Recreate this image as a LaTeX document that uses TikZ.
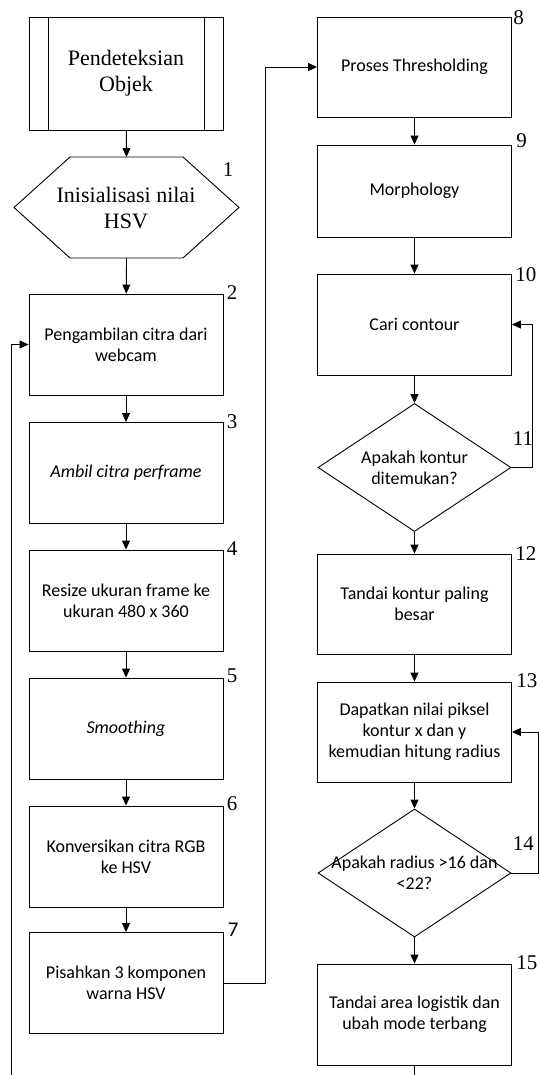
\documentclass[tikz,border=0pt]{standalone}
\usepackage{fontspec}
\setmainfont{Liberation Serif}
\setsansfont{Carlito}
\usetikzlibrary{calc,arrows.meta,shapes.geometric}

\begin{document}
\begin{tikzpicture}[x=1pt,y=-1pt,line width=0.9pt,
  arr/.style={-{Triangle[length=9pt,width=8pt]}},
  proc/.style={draw,rectangle,minimum width=194pt,minimum height=101pt,
    inner sep=2pt,align=center,font=\sffamily\fontsize{18}{21}\selectfont},
  decision/.style={draw,diamond,minimum width=193pt,minimum height=128pt,inner sep=0pt},
  dectext/.style={align=center,font=\sffamily\fontsize{18}{21}\selectfont},
  serif/.style={align=center,font=\rmfamily\fontsize{22}{26}\selectfont},
  num/.style={anchor=base west,inner sep=0pt,font=\rmfamily\fontsize{21}{21}\selectfont}]

\useasboundingbox (0,0) rectangle (539,1075);

% Start (predefined process)
\node[draw,minimum width=194pt,minimum height=113pt,serif] (start) at (126,73.5) {Pendeteksian\\Objek};
\draw ([xshift=20pt]start.north west) -- ([xshift=20pt]start.south west);
\draw ([xshift=-19pt]start.north east) -- ([xshift=-19pt]start.south east);

% Preparation hexagon
\node[serif] (init) at (126,208) {Inisialisasi nilai\\HSV};
\coordinate (hexN) at (126.5,157);
\coordinate (hexS) at (126.5,258);
\draw (hexN) ++(-56.5,0) -- ++(113,0) -- ++(56,50.5) -- ++(-56,50.5)
  -- ++(-113,0) -- ++(-56,-50.5) -- cycle;
\node[num] (n1) at ($(hexN)+(96,20)$) {1};

% Left column
\node[proc] (ambil) at (126,344.5) {Pengambilan citra dari\\webcam};
\node[proc] (frame) at (126,473) {\itshape Ambil citra perframe};
\node[proc] (resize) at (126,600.5) {Resize ukuran frame ke\\ukuran 480 x 360};
\node[proc] (smooth) at (126,728.5) {\itshape Smoothing};
\node[proc] (konversi) at (126,856.5) {Konversikan citra RGB\\ke HSV};
\node[proc] (pisah) at (126,983) {Pisahkan 3 komponen\\warna HSV};

% Right column
\node[proc,minimum height=100pt] (thresh) at (414.5,67) {Proses Thresholding};
\node[proc,minimum height=92pt] (morph) at (414.5,191) {Morphology};
\node[proc] (kontur) at (414.5,324.5) {Cari contour};
\node[decision,label={[dectext]center:Apakah kontur\\ditemukan?}] (cek) at (414.5,467.5) {};
\node[proc,minimum height=100pt] (tandai) at (414.5,604) {Tandai kontur paling\\besar};
\node[proc,minimum height=100pt] (piksel) at (414.5,732) {Dapatkan nilai piksel\\kontur x dan y\\kemudian hitung radius};
\node[decision,label={[dectext]center:Apakah radius >16 dan\\<22?}] (radius) at (414.5,873) {};
\node[proc] (logistik) at (414.5,1014.5) {Tandai area logistik dan\\ubah mode terbang};

% Step numbers
\node[num] (n2) at ([shift={(3pt,-6pt)}]ambil.north east) {2};
\node[num] (n3) at ([shift={(3pt,-6pt)}]frame.north east) {3};
\node[num] (n4) at ([shift={(3pt,-6pt)}]resize.north east) {4};
\node[num] (n5) at ([shift={(3pt,-5pt)}]smooth.north east) {5};
\node[num] (n6) at ([shift={(3pt,-5pt)}]konversi.north east) {6};
\node[num,font=\sffamily\fontsize{21}{21}\selectfont] (n7) at ([shift={(4pt,-4pt)}]pisah.north east) {7};
\node[num] (n8) at ([shift={(1pt,-8pt)}]thresh.north east) {8};
\node[num] (n9) at ([shift={(4pt,-3pt)}]morph.north east) {9};
\node[num] (n10) at ([shift={(3pt,-8pt)}]kontur.north east) {10};
\node[num] (n11) at ([shift={(1pt,22pt)}]cek.east) {11};
\node[num] (n12) at ([shift={(3pt,-7pt)}]tandai.north east) {12};
\node[num] (n13) at ([shift={(4pt,-6pt)}]piksel.north east) {13};
\node[num] (n14) at ([shift={(1pt,23pt)}]radius.east) {14};
\node[num] (n15) at ([shift={(4pt,-6pt)}]logistik.north east) {15};

% Flow
\draw[arr] (start) -- (hexN);
\draw[arr] (hexS) -- (ambil);
\draw[arr] (ambil) -- (frame);
\draw[arr] (frame) -- (resize);
\draw[arr] (resize) -- (smooth);
\draw[arr] (smooth) -- (konversi);
\draw[arr] (konversi) -- (pisah);
\draw[arr] (pisah.east) -- ++(42,0) |- (thresh.west);
\draw[arr] (thresh) -- (morph);
\draw[arr] (morph) -- (kontur);
\draw[arr] (kontur) -- (cek);
\draw[arr] (cek.east) -- ++(21,0) |- (kontur.east);
\draw[arr] (cek) -- (tandai);
\draw[arr] (tandai) -- (piksel);
\draw[arr] (piksel) -- (radius);
\draw[arr] (radius.east) -- ++(27,0) |- (piksel.east);
\draw[arr] (radius) -- (logistik);

% Loop back and exit
\coordinate (loop) at (11,1075);
\draw[arr] (loop) |- (ambil.west);
\coordinate (next) at (414.5,1075);
\draw (logistik) -- (next);

\end{tikzpicture}
\end{document}
